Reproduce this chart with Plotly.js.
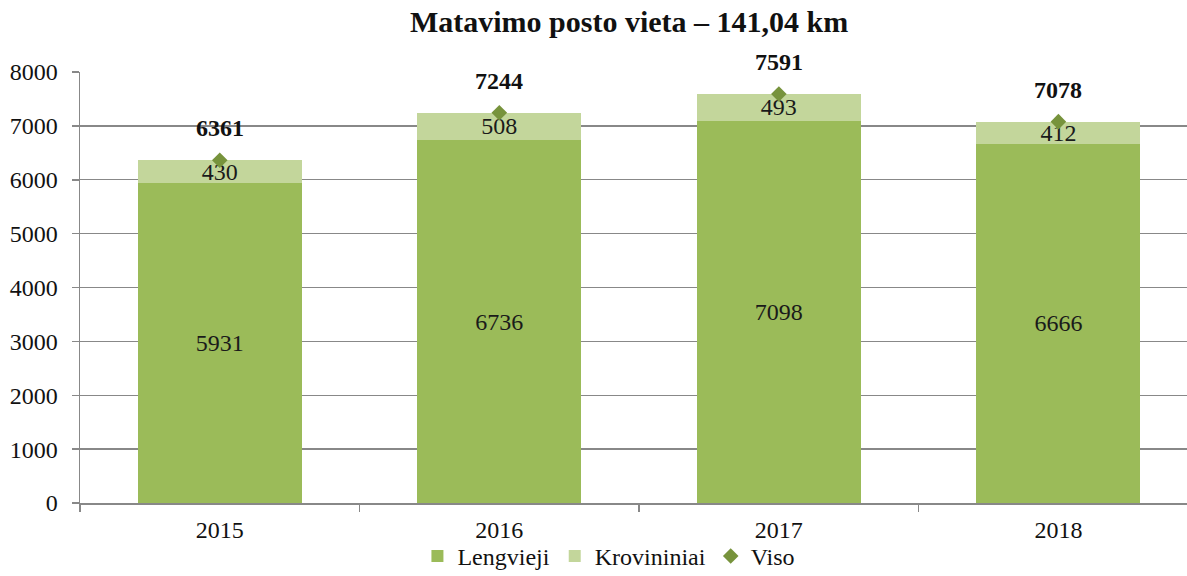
<!DOCTYPE html>
<html><head><meta charset="utf-8">
<script src="https://cdn.plot.ly/plotly-3.0.1.min.js"></script>
<style>html,body{margin:0;padding:0;background:#fff;overflow:hidden}</style>
</head><body>
<div id="chart" style="width:1187px;height:576px"></div>
<script>
const years = ['2015', '2016', '2017', '2018'];
const lengvieji = [5931, 6736, 7098, 6666];
const krovininiai = [430, 508, 493, 412];
const viso = [6361, 7244, 7591, 7078];
const yTicks = [0, 1000, 2000, 3000, 4000, 5000, 6000, 7000, 8000];

const serif = 'Liberation Serif, Times New Roman, DejaVu Serif, serif';

const traces = [
  {type: 'bar', name: 'Lengvieji', x: years, y: lengvieji,
   marker: {color: '#9BBB59'}, text: lengvieji.map(String),
   textposition: 'inside', insidetextanchor: 'middle', constraintext: 'none', textangle: 0,
   insidetextfont: {family: serif, size: 24, color: '#1a1a1a'}, hoverinfo: 'skip'},
  {type: 'bar', name: 'Krovininiai', x: years, y: krovininiai,
   marker: {color: '#C3D69B'}, text: krovininiai.map(String),
   textposition: 'inside', insidetextanchor: 'middle', constraintext: 'none', textangle: 0,
   insidetextfont: {family: serif, size: 24, color: '#1a1a1a'}, hoverinfo: 'skip'},
  {type: 'scatter', mode: 'markers', name: 'Viso', x: years, y: viso,
   marker: {symbol: 'diamond', size: 12, color: '#77933C'}, hoverinfo: 'skip'}
];

const annotations = years.map((yr, i) => ({
  x: i, y: viso[i], xref: 'x', yref: 'y', text: '<b>' + viso[i] + '</b>',
  showarrow: false, yshift: 32, font: {family: serif, size: 24, color: '#111'}
}));

const layout = {
  width: 1187, height: 576,
  font: {family: serif, color: '#111'},
  margin: {l: 80, r: 0, t: 72, b: 73},
  paper_bgcolor: '#fff', plot_bgcolor: '#fff',
  barmode: 'stack', bargap: 0.413,
  showlegend: true,
  title: {text: '<b>Matavimo posto vieta – 141,04 km</b>', x: 0.53, xanchor: 'center', y: 0.962, yanchor: 'middle',
          font: {family: serif, size: 30, color: '#111'}},
  xaxis: {type: 'category', range: [-0.5, 3.46], tickson: 'boundaries', ticks: 'outside', ticklen: 7,
          tickcolor: '#888', tickwidth: 1.5, showline: true, linecolor: '#888', linewidth: 1.5,
          ticklabelstandoff: 5,
          showgrid: false, tickfont: {family: serif, size: 24, color: '#111'}, fixedrange: true},
  yaxis: {range: [0, 8000], tickvals: yTicks, ticktext: yTicks.map(String), ticks: 'outside', ticklen: 7,
          tickcolor: '#888', tickwidth: 1.5, showline: true, linecolor: '#888', linewidth: 1.5,
          ticklabelstandoff: 9,
          showgrid: true, gridcolor: '#888', gridwidth: 1.3, zeroline: false,
          tickfont: {family: serif, size: 24, color: '#111'}, fixedrange: true},
  legend: {orientation: 'h', traceorder: 'normal', x: 0.513, xanchor: 'center', xref: 'container',
           y: 0.034, yanchor: 'middle', yref: 'container', bgcolor: 'rgba(0,0,0,0)',
           font: {family: serif, size: 24, color: '#111'}, tracegroupgap: 0},
  annotations: annotations
};

Plotly.newPlot('chart', traces, layout, {displayModeBar: false, staticPlot: true});
</script>
</body></html>
